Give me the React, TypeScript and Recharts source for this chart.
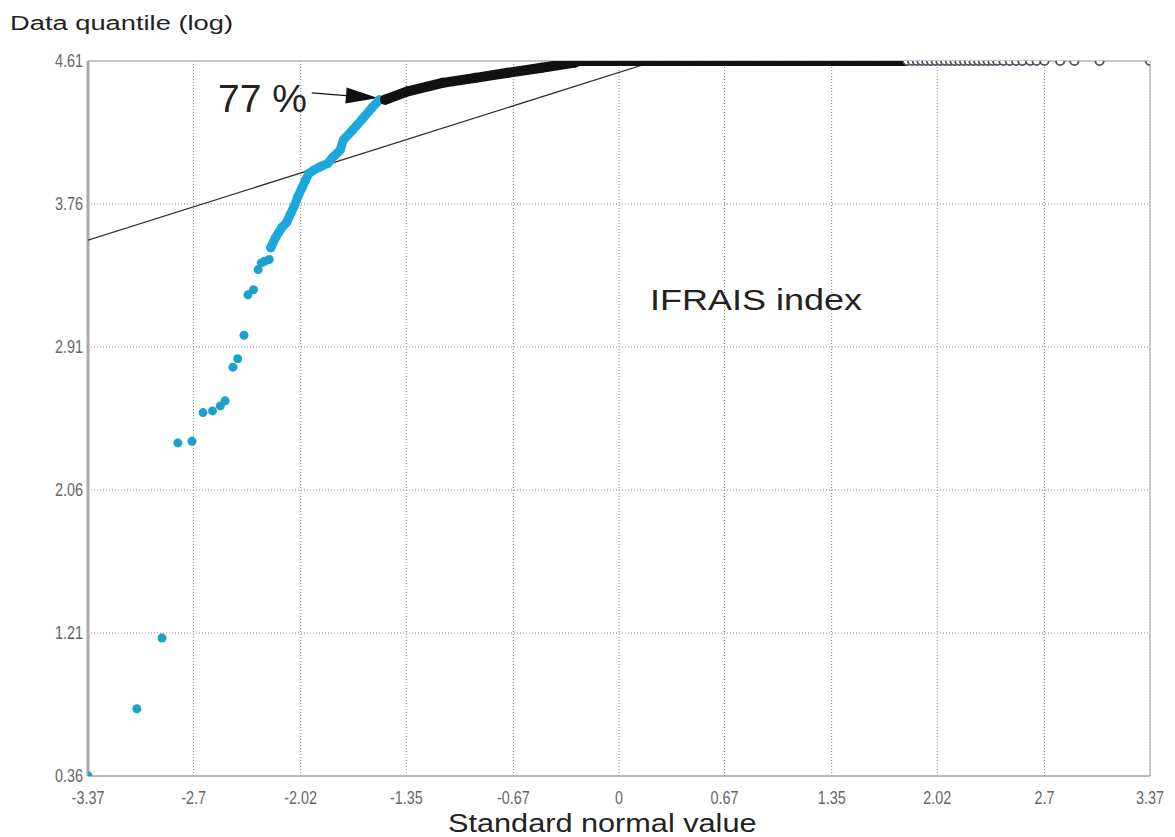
import React from 'react';
import { ScatterChart, Scatter, XAxis, YAxis, CartesianGrid, ReferenceLine } from 'recharts';

// axis ticks (standard normal quantiles / log data quantiles)
const xTicks = [-3.37, -2.7, -2.02, -1.35, -0.67, 0, 0.67, 1.35, 2.02, 2.7, 3.37];
const yTicks = [0.36, 1.21, 2.06, 2.91, 3.76, 4.61];

// lower tail, single visible points
const sparseZ = [-3.37, -3.06, -2.9, -2.8, -2.71, -2.64, -2.58, -2.53, -2.5, -2.45, -2.42, -2.38, -2.355, -2.32, -2.29, -2.27, -2.25, -2.22, -2.21];
const sparseQ = [0.36, 0.76, 1.18, 2.34, 2.35, 2.52, 2.53, 2.56, 2.59, 2.79, 2.84, 2.98, 3.22, 3.25, 3.37, 3.41, 3.42, 3.43, 3.5];

// dense blue run up to the 77 % mark
const denseZ = [-2.21, -2.18, -2.14, -2.11, -2.09, -2.06, -2.04, -2.01, -1.99, -1.97, -1.94, -1.9, -1.85, -1.815, -1.77, -1.75, -1.69, -1.625, -1.57, -1.52];
const denseQ = [3.5, 3.56, 3.62, 3.65, 3.69, 3.75, 3.8, 3.86, 3.9, 3.94, 3.96, 3.98, 4.0, 4.04, 4.08, 4.14, 4.2, 4.27, 4.33, 4.38];

// black run above 77 %
const blackZ = [-1.485, -1.34, -1.12, -0.91, -0.705, -0.49, -0.28, -0.26, 0.5, 1.2, 1.81];
const blackQ = [4.38, 4.43, 4.48, 4.51, 4.54, 4.57, 4.6, 4.61, 4.61, 4.61, 4.61];

// open circles at the cap (ln 100)
const CAP = 4.61;
const openZ = [1.83, 1.86, 1.89, 1.92, 1.95, 1.98, 2.01, 2.04, 2.07, 2.1, 2.13, 2.16, 2.19, 2.22, 2.25, 2.28, 2.31, 2.34, 2.37, 2.4, 2.44, 2.48, 2.52, 2.56, 2.61, 2.65, 2.7, 2.8, 2.89, 3.05, 3.37];

// normal reference line
const fitZ = [-3.37, 0.23];
const fitQ = [3.545, 4.61];

// annotation arrow
const arrowZ = [-1.95, -1.53];
const arrowQ = [4.42, 4.39];

const zip = (zs: number[], qs: number[]) => zs.map((z, i) => ({ z, q: qs[i] }));

const BLUE = '#1ba9dc';

const Dot = (fill: string, r: number) => (p: any) => <circle cx={p.cx} cy={p.cy} r={r} fill={fill} />;
const Ring = (p: any) => <circle cx={p.cx} cy={p.cy} r={4.2} fill="#fff" stroke="#4a5263" strokeWidth={1.8} />;
const Nothing = () => null;

const Arrow = (p: any) => {
  const { x1, y1, x2, y2 } = p;
  const dx = x2 - x1, dy = y2 - y1;
  const len = Math.sqrt(dx * dx + dy * dy) || 1;
  const ux = dx / len, uy = dy / len;
  const bx = x2 - ux * 32, by = y2 - uy * 32;
  const pts = `${x2},${y2} ${bx - uy * 8},${by + ux * 8} ${bx + uy * 8},${by - ux * 8}`;
  return (
    <g>
      <line x1={x1} y1={y1} x2={bx} y2={by} stroke="#111" strokeWidth={1.2} />
      <polygon points={pts} fill="#111" />
    </g>
  );
};

const tickFont = "'Liberation Sans', Arial, sans-serif";

const XTick = (p: any) => (
  <text transform={`translate(${p.x},${p.y + 24}) scale(0.8,1)`} textAnchor="middle" fontSize={18} fill="#666" fontFamily={tickFont}>
    {p.payload.value}
  </text>
);

const YTick = (p: any) => (
  <text transform={`translate(${p.x},${p.y + 6}) scale(0.8,1)`} textAnchor="end" fontSize={18} fill="#666" fontFamily={tickFont}>
    {p.payload.value}
  </text>
);

const labelFont = "'Liberation Sans', Arial, sans-serif";

const App = () => {
  return (
    <div style={{ position: 'relative', width: 1167, height: 829 }}>
      <ScatterChart width={1160} height={820} margin={{ top: 53, right: 18, bottom: 22, left: 0 }}>
        <CartesianGrid strokeDasharray="1 2" stroke="#888" />
        <XAxis
          type="number"
          dataKey="z"
          domain={[-3.37, 3.37]}
          ticks={xTicks}
          allowDataOverflow
          height={30}
          tickSize={0}
          tickMargin={4}
          tickLine={false}
          axisLine={{ stroke: '#aaa', strokeWidth: 1.5 }}
          tick={XTick}
        />
        <YAxis
          type="number"
          dataKey="q"
          domain={[0.36, 4.61]}
          ticks={yTicks}
          allowDataOverflow
          width={80}
          tickSize={0}
          tickMargin={5}
          tickLine={false}
          axisLine={{ stroke: '#aaa', strokeWidth: 3 }}
          tick={YTick}
        />
        <ReferenceLine y={4.61} stroke="#bbb" strokeWidth={1.5} />
        <ReferenceLine x={3.37} stroke="#bbb" strokeWidth={1.5} />
        <Scatter
          data={zip(fitZ, fitQ)}
          line={{ stroke: '#333', strokeWidth: 1.3 }}
          shape={Nothing}
          isAnimationActive={false}
        />
        <Scatter data={zip(sparseZ, sparseQ)} shape={Dot('#1aa2cc', 4.5)} isAnimationActive={false} />
        <Scatter
          data={zip(denseZ, denseQ)}
          line={{ stroke: BLUE, strokeWidth: 9, strokeLinecap: 'round', strokeLinejoin: 'round' }}
          shape={Dot(BLUE, 4.5)}
          isAnimationActive={false}
        />
        <Scatter
          data={zip(blackZ, blackQ)}
          line={{ stroke: '#111', strokeWidth: 10, strokeLinecap: 'round', strokeLinejoin: 'round' }}
          shape={Dot('#111', 5)}
          isAnimationActive={false}
        />
        <Scatter data={openZ.map((z) => ({ z, q: CAP }))} shape={Ring} isAnimationActive={false} />
        <ReferenceLine
          segment={[{ x: arrowZ[0], y: arrowQ[0] }, { x: arrowZ[1], y: arrowQ[1] }]}
          shape={Arrow}
          ifOverflow="visible"
        />
      </ScatterChart>
      <svg width={1167} height={829} style={{ position: 'absolute', left: 0, top: 0, pointerEvents: 'none' }}>
        <text transform="translate(2,22) scale(1.3,1)" fontSize={21} fill="#222" fontFamily={labelFont}>
          Data quantile (log)
        </text>
        <text transform="translate(440,824) scale(1.18,1)" fontSize={26} fill="#222" fontFamily={labelFont}>
          Standard normal value
        </text>
        <text transform="translate(642,302) scale(1.2,1)" fontSize={30} fill="#222" fontFamily={labelFont}>
          IFRAIS index
        </text>
        <text x={210} y={104} fontSize={39} fill="#222" fontFamily={labelFont}>
          77 %
        </text>
      </svg>
    </div>
  );
};

export default App;
